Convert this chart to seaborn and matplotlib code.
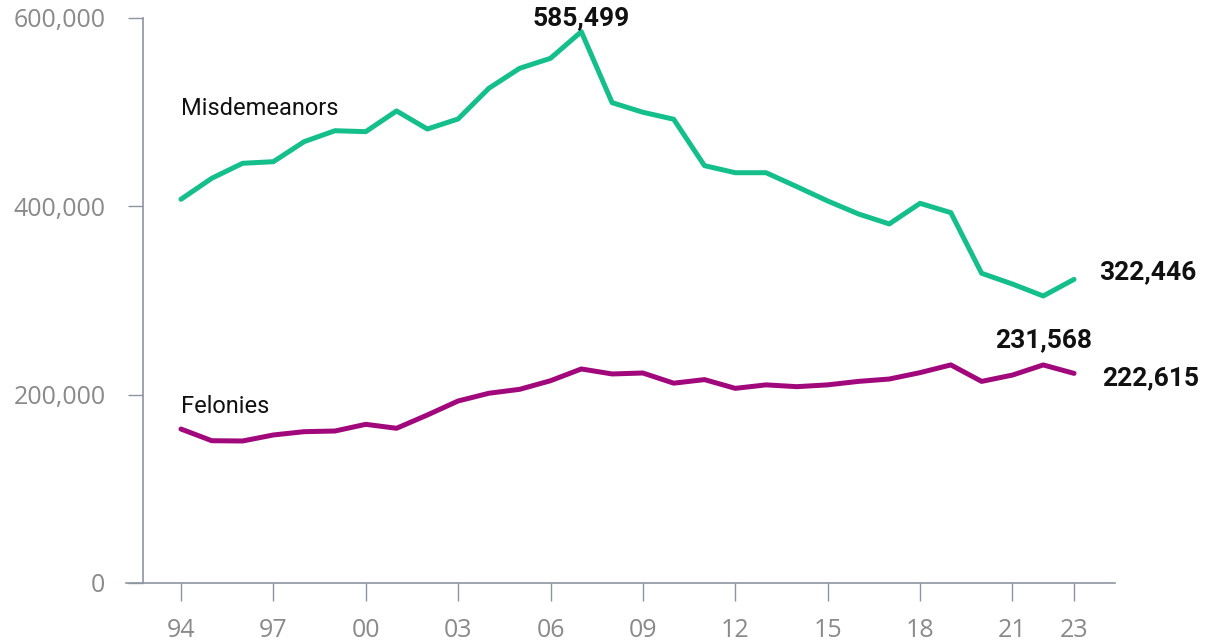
import matplotlib
matplotlib.use("Agg")
import matplotlib.pyplot as plt
import seaborn as sns
import pandas as pd

years = list(range(1994, 2024))
misdemeanors = [407500, 429800, 445700, 447400, 468700, 480300, 479300, 501300, 482100, 492800,
                525400, 546600, 557200, 585499, 510100, 499900, 492500, 443200, 435700, 435700,
                420900, 405700, 391900, 381300, 403200, 393300, 328900, 317500, 304800, 322446]
felonies = [163500, 151100, 150800, 157200, 160700, 161400, 168500, 164300, 178400, 193300,
            201500, 205700, 214800, 227300, 222000, 223000, 212200, 216000, 206700, 210400,
            208500, 210400, 214100, 216600, 223400, 231600, 214100, 220800, 231568, 222615]
tick_years = [1994, 1997, 2000, 2003, 2006, 2009, 2012, 2015, 2018, 2021, 2023]
tick_labels = ["94", "97", "00", "03", "06", "09", "12", "15", "18", "21", "23"]
y_ticks = [0, 200000, 400000, 600000]
y_labels = ["0", "200,000", "400,000", "600,000"]

df = pd.DataFrame({"year": years * 2,
                   "count": misdemeanors + felonies,
                   "type": ["Misdemeanors"] * len(years) + ["Felonies"] * len(years)})

sns.set_theme(style="white")
plt.rcParams['font.family'] = ['Open Sans', 'DejaVu Sans']

fig = plt.figure(figsize=(12.07, 6.44), dpi=100)
ax = fig.add_axes([126 / 1207, (644 - 583) / 644, (1115 - 126) / 1207, (583 - 18) / 644])

palette = {"Misdemeanors": "#14BF8C", "Felonies": "#A1087C"}
sns.lineplot(data=df, x="year", y="count", hue="type", palette=palette, linewidth=3.6,
             legend=False, ax=ax, solid_joinstyle="round", solid_capstyle="round")

px = 30.8
ax.set_xlim(1994 - 55 / px, 2023 + 41 / px)
ax.set_ylim(0, 600000)

for s in ["top", "right"]:
    ax.spines[s].set_visible(False)
axis_col = "#8C959F"
ax.spines["left"].set_position(("data", 1994 - 38 / px))
ax.spines["left"].set_color(axis_col)
ax.spines["bottom"].set_color(axis_col)
ax.spines["left"].set_linewidth(1.2)
ax.spines["bottom"].set_linewidth(1.2)

ax.set_xticks(tick_years)
ax.set_xticklabels(tick_labels)
ax.set_yticks(y_ticks)
ax.set_yticklabels(y_labels)
ax.tick_params(axis="x", bottom=True, direction="out", length=13, width=1, color=axis_col,
               pad=12, labelsize=18, labelcolor="#8a8a8a")
ax.tick_params(axis="y", left=True, direction="out", length=11, width=1, color=axis_col,
               pad=16, labelsize=18, labelcolor="#8a8a8a")
ax.set_xlabel("")
ax.set_ylabel("")
ax.grid(False)

lab_font = ['Roboto', 'DejaVu Sans']
ax.text(1994, 504000, "Misdemeanors", fontsize=17, color="#111111", family=lab_font,
        ha="left", va="center")
ax.text(1994, 187000, "Felonies", fontsize=17, color="#111111", family=lab_font,
        ha="left", va="center")

bold = dict(fontsize=19, fontweight="bold", color="#111111", family=lab_font)
ax.text(2007, 592000, f"{misdemeanors[13]:,}", ha="center", va="baseline", **bold)
ax.text(2023.8, misdemeanors[-1] + 8000, f"{misdemeanors[-1]:,}", ha="left", va="center", **bold)
ax.text(2022, felonies[-2] + 26000, f"{felonies[-2]:,}", ha="center", va="center", **bold)
ax.text(2023.9, felonies[-1] - 5000, f"{felonies[-1]:,}", ha="left", va="center", **bold)

fig.savefig("out.png", dpi=100)
